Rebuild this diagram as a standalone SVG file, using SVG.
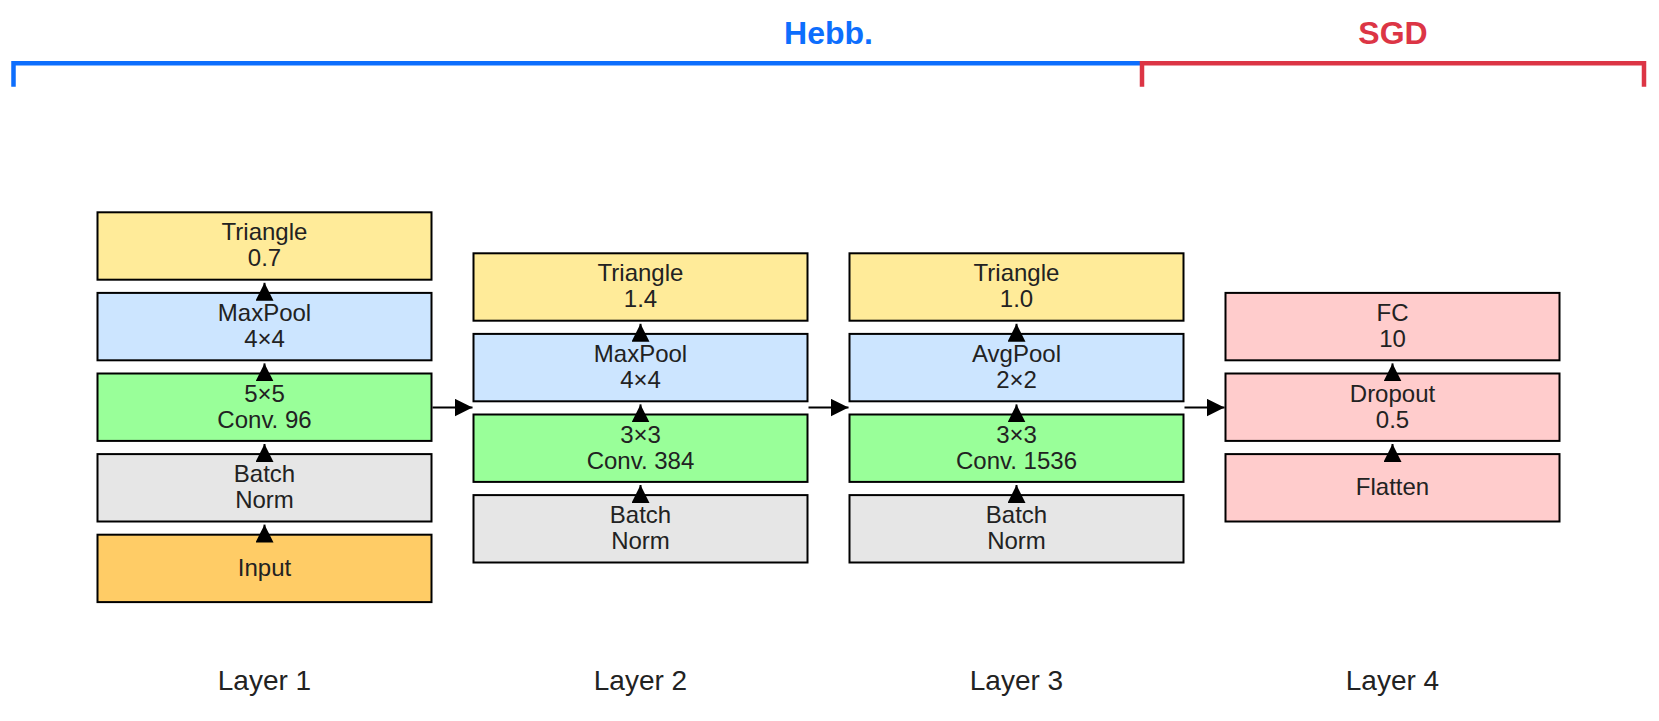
<svg xmlns="http://www.w3.org/2000/svg" width="1659" height="721" viewBox="0 0 1659 721">
<style>
.box{stroke:#000;stroke-width:2}
.tri{fill:#ffeb99}.pool{fill:#cce5ff}.conv{fill:#99ff99}.bn{fill:#e6e6e6}.inp{fill:#ffcc66}.fc{fill:#ffcccc}
text{font-family:"Liberation Sans",Arial,sans-serif;fill:#222;text-anchor:middle}
.t{font-size:24px}
.lab{font-size:28px}
.hdr{font-size:32px;font-weight:bold}
.conn{stroke:#000;stroke-width:2;fill:none}
</style>
<defs>
<marker id="ah" viewBox="0 0 18 18" refX="18" refY="9" markerWidth="18" markerHeight="18" markerUnits="userSpaceOnUse" orient="auto">
<path d="M0,0 L18,9 L0,18 z" fill="#000"/>
</marker>
</defs>
<rect width="1659" height="721" fill="#fff"/>
<g id="brackets">
<path d="M13.5,86.7 V63.3 H1142" fill="none" stroke="#0d6efd" stroke-width="4.5"/>
<path d="M1142,86.7 V63.3 H1644 V86.7" fill="none" stroke="#dc3545" stroke-width="4.5"/>
<text class="hdr" x="828.5" y="44.3" style="fill:#0d6efd">Hebb.</text>
<text class="hdr" x="1393" y="44.3" style="fill:#dc3545">SGD</text>
</g>
<g id="layer1">
<g id="l1-triangle"><rect class="box tri" x="97.5" y="212.3" width="334" height="67.4"/><text class="t" x="264.5" y="240.3">Triangle</text><text class="t" x="264.5" y="266.3">0.7</text></g>
<g id="l1-maxpool"><rect class="box pool" x="97.5" y="292.9" width="334" height="67.4"/><text class="t" x="264.5" y="320.9">MaxPool</text><text class="t" x="264.5" y="346.9">4×4</text></g>
<g id="l1-conv"><rect class="box conv" x="97.5" y="373.5" width="334" height="67.4"/><text class="t" x="264.5" y="401.5">5×5</text><text class="t" x="264.5" y="427.5">Conv. 96</text></g>
<g id="l1-bn"><rect class="box bn" x="97.5" y="454.1" width="334" height="67.4"/><text class="t" x="264.5" y="482.1">Batch</text><text class="t" x="264.5" y="508.1">Norm</text></g>
<g id="l1-input"><rect class="box inp" x="97.5" y="534.7" width="334" height="67.4"/><text class="t" x="264.5" y="575.7">Input</text></g>
<text class="lab" x="264.5" y="690">Layer 1</text>
</g>
<g id="layer2">
<g id="l2-triangle"><rect class="box tri" x="473.5" y="253.3" width="334" height="67.4"/><text class="t" x="640.5" y="281.3">Triangle</text><text class="t" x="640.5" y="307.3">1.4</text></g>
<g id="l2-maxpool"><rect class="box pool" x="473.5" y="333.9" width="334" height="67.4"/><text class="t" x="640.5" y="361.9">MaxPool</text><text class="t" x="640.5" y="387.9">4×4</text></g>
<g id="l2-conv"><rect class="box conv" x="473.5" y="414.5" width="334" height="67.4"/><text class="t" x="640.5" y="442.5">3×3</text><text class="t" x="640.5" y="468.5">Conv. 384</text></g>
<g id="l2-bn"><rect class="box bn" x="473.5" y="495.1" width="334" height="67.4"/><text class="t" x="640.5" y="523.1">Batch</text><text class="t" x="640.5" y="549.1">Norm</text></g>
<text class="lab" x="640.5" y="690">Layer 2</text>
</g>
<g id="layer3">
<g id="l3-triangle"><rect class="box tri" x="849.5" y="253.3" width="334" height="67.4"/><text class="t" x="1016.5" y="281.3">Triangle</text><text class="t" x="1016.5" y="307.3">1.0</text></g>
<g id="l3-avgpool"><rect class="box pool" x="849.5" y="333.9" width="334" height="67.4"/><text class="t" x="1016.5" y="361.9">AvgPool</text><text class="t" x="1016.5" y="387.9">2×2</text></g>
<g id="l3-conv"><rect class="box conv" x="849.5" y="414.5" width="334" height="67.4"/><text class="t" x="1016.5" y="442.5">3×3</text><text class="t" x="1016.5" y="468.5">Conv. 1536</text></g>
<g id="l3-bn"><rect class="box bn" x="849.5" y="495.1" width="334" height="67.4"/><text class="t" x="1016.5" y="523.1">Batch</text><text class="t" x="1016.5" y="549.1">Norm</text></g>
<text class="lab" x="1016.5" y="690">Layer 3</text>
</g>
<g id="layer4">
<g id="l4-fc"><rect class="box fc" x="1225.5" y="292.9" width="334" height="67.4"/><text class="t" x="1392.5" y="320.9">FC</text><text class="t" x="1392.5" y="346.9">10</text></g>
<g id="l4-dropout"><rect class="box fc" x="1225.5" y="373.5" width="334" height="67.4"/><text class="t" x="1392.5" y="401.5">Dropout</text><text class="t" x="1392.5" y="427.5">0.5</text></g>
<g id="l4-flatten"><rect class="box fc" x="1225.5" y="454.1" width="334" height="67.4"/><text class="t" x="1392.5" y="495.1">Flatten</text></g>
<text class="lab" x="1392.5" y="690">Layer 4</text>
</g>
<g id="connectors">
<line class="conn" x1="264.5" y1="292" x2="264.5" y2="282.8" marker-end="url(#ah)"/>
<line class="conn" x1="264.5" y1="372.5" x2="264.5" y2="363.4" marker-end="url(#ah)"/>
<line class="conn" x1="264.5" y1="453.1" x2="264.5" y2="444" marker-end="url(#ah)"/>
<line class="conn" x1="264.5" y1="533.7" x2="264.5" y2="524.6" marker-end="url(#ah)"/>
<line class="conn" x1="640.5" y1="333" x2="640.5" y2="323.8" marker-end="url(#ah)"/>
<line class="conn" x1="640.5" y1="413.5" x2="640.5" y2="404.4" marker-end="url(#ah)"/>
<line class="conn" x1="640.5" y1="494.1" x2="640.5" y2="485" marker-end="url(#ah)"/>
<line class="conn" x1="1016.5" y1="333" x2="1016.5" y2="323.8" marker-end="url(#ah)"/>
<line class="conn" x1="1016.5" y1="413.5" x2="1016.5" y2="404.4" marker-end="url(#ah)"/>
<line class="conn" x1="1016.5" y1="494.1" x2="1016.5" y2="485" marker-end="url(#ah)"/>
<line class="conn" x1="1392.5" y1="372.5" x2="1392.5" y2="363.4" marker-end="url(#ah)"/>
<line class="conn" x1="1392.5" y1="453.1" x2="1392.5" y2="444" marker-end="url(#ah)"/>
<line class="conn" x1="432.5" y1="407.6" x2="472.5" y2="407.6" marker-end="url(#ah)"/>
<line class="conn" x1="808.5" y1="407.6" x2="848.5" y2="407.6" marker-end="url(#ah)"/>
<line class="conn" x1="1184.5" y1="407.6" x2="1224.5" y2="407.6" marker-end="url(#ah)"/>
</g>
</svg>
